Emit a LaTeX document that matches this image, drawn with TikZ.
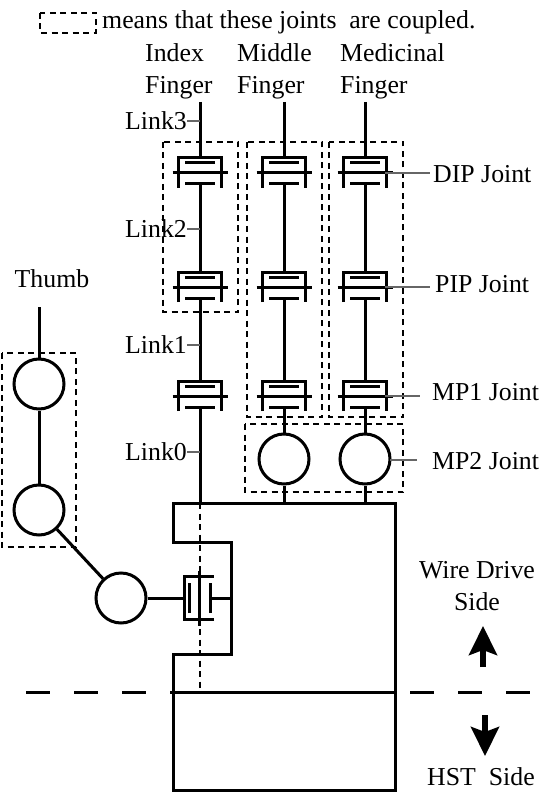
\documentclass[tikz,border=0pt]{standalone}
\usepackage{fontspec}
\setmainfont{Liberation Serif}
\usetikzlibrary{arrows.meta,calc,positioning}
\tikzset{
  link/.style={line width=3pt},
  lead/.style={line width=1.2pt,draw=black!60},
  coupled/.style={line width=1.7pt,dash pattern=on 6pt off 4.5pt},
  rev/.style={draw,circle,line width=3pt,minimum size=50pt,inner sep=0pt},
  lab/.style={inner sep=0pt,align=center},
  fing/.style={inner sep=0pt,align=left,anchor=west},
  dir/.style={line width=5.5pt,-{Stealth[width=28pt,length=29pt,inset=5pt]}},
  joint/.pic={
    \draw[line width=3pt] (-21.5,15) -- (-21.5,-15) -- (21.5,-15) -- (21.5,15);
    \draw[line width=3pt] (-27.5,0) -- (27.5,0);
    \draw[line width=3pt] (-15,-10) -- (15,-10);
    \draw[line width=3pt] (-15,11) -- (15,11);
    \coordinate (-top) at (0,-15);
    \coordinate (-bot) at (0,11);
  }
}
\begin{document}
\begin{tikzpicture}[x=1pt,y=-1pt,font=\fontsize{25.8}{32}\selectfont]
  \useasboundingbox (0,0) rectangle (542,794);
  % fingers
  \foreach \f/\x in {idx/200,mid/284,med/365}{
    \coordinate (\f tip) at (\x,102);
    \path (\x,173) pic (\f dip) {joint};
    \path (\x,287) pic (\f pip) {joint};
    \path (\x,396) pic (\f mpa) {joint};
    \draw[link] (\f tip) -- (\f dip-top);
    \draw[link] (\f dip-bot) -- (\f pip-top);
    \draw[link] (\f pip-bot) -- (\f mpa-top);
  }
  \node[rev] (midmpb) at (284,459) {};
  \node[rev] (medmpb) at (365,459) {};
  % base
  \draw[link,line join=miter] (173,503) -- (173,542) -- (231,542) -- (231,654) -- (173,654) -- (173,790)
    -- (395,790) -- (395,503) -- cycle;
  \coordinate (idxbase) at (200,503);
  \coordinate (midbase) at (284,503);
  \coordinate (medbase) at (365,503);
  \draw[link] (idxmpa-bot) -- (idxbase);
  \foreach \f in {mid,med}{
    \draw[link] (\f mpa-bot) -- (\f mpb);
    \draw[link] (\f mpb) -- (\f base);
  }
  % thumb
  \coordinate (thtip) at (39,307);
  \node[rev] (tha) at (39,384) {};
  \node[rev] (thb) at (39,510) {};
  \node[rev] (thc) at (121,598) {};
  \path (199,598) pic[rotate=90] (thj) {joint};
  \coordinate (wall) at (231,598);
  \draw[link] (thtip) -- (tha);
  \draw[link] (tha) -- (thb);
  \draw[link] (thb) -- (thc);
  \draw[link] (thc) -- (thj-top);
  \draw[link] (thj-bot) -- (wall);
  % divider
  \coordinate (idxend) at (200,692);
  \draw[line width=1.8pt,dash pattern=on 6pt off 4.5pt] (idxbase) -- (idxend);
  \draw[link] (173,692) -- (395,692);
  \draw[link,dash pattern=on 24pt off 24pt] (26,692) -- (530,692);
  % coupled groups
  \draw[coupled] (40,13) rectangle (96,33);
  \draw[coupled] (163,142) rectangle (238,312);
  \draw[coupled] (247,142) rectangle (322,417);
  \draw[coupled] (329,142) rectangle (403,417);
  \draw[coupled] (245,424) rectangle (403,492);
  \draw[coupled] (2,353) rectangle (76,547);
  % labels
  \node[lab,anchor=west] (note) at (102,22) {means that these joints\ \ are coupled.};
  \node[fing] (idxname) at (145,71) {Index\\Finger};
  \node[fing] (midname) at (237,71) {Middle\\Finger};
  \node[fing] (medname) at (340,71) {Medicinal\\Finger};
  \node[lab] (thname) at (52,279) {Thumb};
  \foreach \n/\y in {3/121,2/229,1/345,0/452}{
    \node[lab,anchor=east] (lk\n) at (187,\y) {Link\n};
    \coordinate (lke\n) at (200,\y);
    \draw[lead] (lk\n) -- (lke\n);
  }
  \node[lab,anchor=west] (diplab) at (433,174) {DIP Joint};
  \node[lab,anchor=west] (piplab) at (435,284) {PIP Joint};
  \node[lab,anchor=west] (mpalab) at (432,392) {MP1 Joint};
  \node[lab,anchor=west] (mpblab) at (432,461) {MP2 Joint};
  \foreach \n/\xa/\xb/\y in {dip/385/430/173,pip/385/430/287,mpa/385/420/396,mpb/390/417/460}{
    \coordinate (\n s) at (\xa,\y);
    \coordinate (\n e) at (\xb,\y);
    \draw[lead] (\n s) -- (\n e);
  }
  \node[lab] (wire) at (477,586) {Wire Drive\\Side};
  \node[lab,anchor=west] (hst) at (427,777) {HST\ \ Side};
  % direction arrows
  \coordinate (upa) at (483,667);
  \coordinate (upb) at (483,626);
  \coordinate (dna) at (485,715);
  \coordinate (dnb) at (485,756);
  \draw[dir] (upa) -- (upb);
  \draw[dir] (dna) -- (dnb);
\end{tikzpicture}
\end{document}
